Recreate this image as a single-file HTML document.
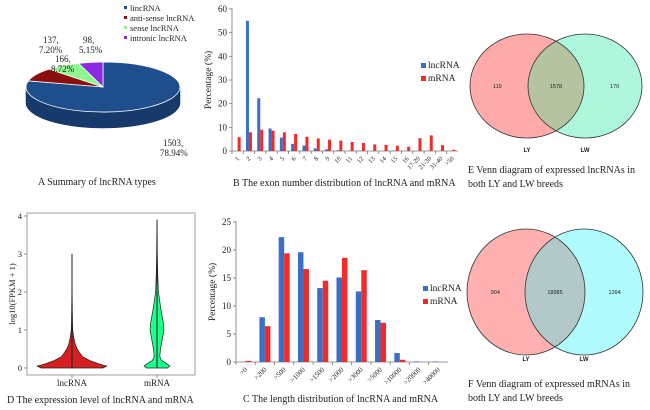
<!DOCTYPE html>
<html><head><meta charset="utf-8"><style>
html,body{margin:0;padding:0;background:#fff}
svg{display:block}
text{font-family:"Liberation Serif",serif;fill:#222}
</style></head><body>
<svg id="s" width="650" height="410" viewBox="0 0 650 410" xmlns="http://www.w3.org/2000/svg">
<g id="pA"></g>
<g id="pB"></g>
<g id="pC"></g>
<g id="pD"></g>
<g id="pE"></g>
<g id="pF"></g>
</svg>
<script>
// ---- Panel A data
const pieLabels=["lincRNA","anti-sense lncRNA","sense lncRNA","intronic lncRNA"];
const pieCounts=[1503,166,137,98];
const piePct=["78.94%","8.72%","7.20%","5.15%"];
// ---- Panel B data
const exonCats=["1","2","3","4","5","6","7","8","9","10","11","12","13","14","15","16","17-20","21-30","31-40",">50"];
const exonLnc=[0,55,22.3,9.5,5.7,3,2.3,1.1,0.7,0.3,0.1,0.1,0,0,0.2,0,0,0,0,0];
const exonMrna=[5.8,7.9,9,8.6,7.9,7.2,6,5.3,4.8,4.4,3.8,3.4,2.8,2.6,2.2,1.8,5.4,6.6,2.5,0.5];
const exonTicks=[0,10,20,30,40,50,60];
// ---- Panel C data
const lenCats=[">0",">200",">500",">1000",">1500",">2000",">3000",">5000",">10000",">20000",">40000"];
const lenLnc=[0,8,22.3,19.6,13.2,15.1,12.6,7.5,1.6,0.1,0.1];
const lenMrna=[0.2,6.4,19.4,16.6,14.5,18.6,16.4,7,0.4,0,0];
const lenTicks=[0,5,10,15,20,25];
// ---- Panel D data
const vioLncY=[0,0.05,0.1,0.2,0.3,0.4,0.5,0.6,0.8,1.0,1.5,2,3];
const vioLncD=[0.88,1.0,0.8,0.5,0.3,0.22,0.15,0.1,0.05,0.02,0.01,0.005,0.002];
const vioMY=[0,0.05,0.1,0.2,0.3,0.5,0.8,1.0,1.2,1.5,2,2.5,3,3.9];
const vioMD=[0.3,0.37,0.3,0.13,0.08,0.1,0.16,0.2,0.18,0.12,0.04,0.02,0.01,0.003];
const vioTicks=[0,1,2,3,4];
// ---- Venn data
const vennE=[119,1578,170];
const vennF=[904,18985,1394];

const NS="http://www.w3.org/2000/svg";
function mk(parent,tag,attrs,txt){const e=document.createElementNS(NS,tag);for(const k in attrs)e.setAttribute(k,attrs[k]);if(txt!==undefined)e.textContent=txt;parent.appendChild(e);return e;}

// ===== Panel A
(function(){
 const g=document.getElementById('pA');
 const cx=103,cy=87,rx=77,ry=25,dep=16;
 const total=pieCounts.reduce((a,b)=>a+b,0);
 const cols=["#1f4e8c","#8b0f0f","#8ff58f","#8a2be2"];
 const side=mk(g,'path',{d:`M${cx-rx},${cy} L${cx-rx},${cy+dep} A${rx},${ry} 0 0 0 ${cx+rx},${cy+dep} L${cx+rx},${cy} Z`,fill:"#163a6b",stroke:"#0f2a50","stroke-width":0.5});
 
 
 const pt=t=>[cx+rx*Math.sin(t),cy-ry*Math.cos(t)];
 let a=0;
 pieCounts.forEach((v,i)=>{
  const s=a, e=a+v/total*2*Math.PI; a=e;
  const p1=pt(s),p2=pt(e),large=(e-s)>Math.PI?1:0;
  const p=mk(g,'path',{d:`M${cx},${cy} L${p1[0]},${p1[1]} A${rx},${ry} 0 ${large} 1 ${p2[0]},${p2[1]} Z`,fill:cols[i],stroke:"#fff","stroke-width":0.8});
  
  
 });
 const lblPos=[[163,146],[55,62],[43,43],[83,43]];
 pieCounts.forEach((v,i)=>{
  const t=mk(g,'text',{x:lblPos[i][0],y:lblPos[i][1],"font-size":9},v+",");
  
  
  const t2=mk(g,'text',{x:lblPos[i][0]-(i==0?3:4),y:lblPos[i][1]+10,"font-size":9},piePct[i]);
  
  
 });
 pieLabels.forEach((l,i)=>{
  const r=mk(g,'rect',{x:124,y:6+i*10,width:3,height:3,fill:cols[i]});
  
  
  const t=mk(g,'text',{x:130,y:11+i*10,"font-size":8.5},l);
  
  
 });
 const c=mk(g,'text',{x:38,y:185,"font-size":10},"A    Summary of lncRNA types");
 
 
})();

// ===== Bar chart helper
function barChart(gid,cats,s1,s2,ticks,x0,x1,y0,yTop,ymax,bw,legX,legY,caption,capX,capY,lblSize){
 const g=document.getElementById(gid);
 const sy=v=>y0-(v/ymax)*(y0-yTop);
 const gw=(x1-x0)/cats.length;
 const ax=mk(g,'path',{d:`M${x0},${yTop-1} L${x0},${y0} L${x1},${y0}`,stroke:"#777",fill:"none","stroke-width":0.8});
 
 
 ticks.forEach(v=>{
  mk(g,'line',{x1:x0-3,x2:x0,y1:sy(v),y2:sy(v),stroke:"#777","stroke-width":0.8});
  const t=mk(g,'text',{x:x0-5,y:sy(v)+3,"font-size":9,"text-anchor":"end"},v);
  
  
 });
 cats.forEach((c,i)=>{
  const gx=x0+i*gw;
  mk(g,'line',{x1:gx,x2:gx,y1:y0,y2:y0+3,stroke:"#777","stroke-width":0.8});
  const cxm=gx+gw/2;
  const b1=mk(g,'rect',{x:cxm-bw,y:sy(s1[i]),width:bw,height:y0-sy(s1[i]),fill:"#3b6fc4"});
  
  
  const b2=mk(g,'rect',{x:cxm,y:sy(s2[i]),width:bw,height:y0-sy(s2[i]),fill:"#f22a2a"});
  
  
  const t=mk(g,'text',{x:cxm+2,y:y0+8,"font-size":lblSize,"text-anchor":"end",transform:`rotate(-45 ${cxm+2} ${y0+8})`},c);
  
  
 });
 const yt=mk(g,'text',{x:0,y:0,"font-size":9.5,"text-anchor":"middle",transform:`translate(${x0-21},${(y0+yTop)/2}) rotate(-90)`},"Percentage (%)");
 
 
 [["lncRNA","#3b6fc4"],["mRNA","#f22a2a"]].forEach((l,i)=>{
  const r=mk(g,'rect',{x:legX,y:legY+i*13-4,width:5,height:5,fill:l[1]});
  
  
  const t=mk(g,'text',{x:legX+7,y:legY+i*13+1,"font-size":9.5},l[0]);
  
  
 });
 const c=mk(g,'text',{x:capX,y:capY,"font-size":10},caption);
 
 
}
barChart('pB',exonCats,exonLnc,exonMrna,exonTicks,232,458,151,9,60,3,421,67,"B    The exon number distribution of lncRNA and mRNA",233,186,6.5);
barChart('pC',lenCats,lenLnc,lenMrna,lenTicks,236,448,362,222,25,5.5,423,290,"C    The length distribution of lncRNA and mRNA",243,402,7);

// ===== Panel D
(function(){
 const g=document.getElementById('pD');
 const bx0=27,bx1=195,by0=213,by1=375;
 const sy=v=>368-v*38;
 const box=mk(g,'rect',{x:bx0,y:by0,width:bx1-bx0,height:by1-by0,fill:"#fff",stroke:"#888","stroke-width":0.8});
 
 
 vioTicks.forEach(v=>{
  mk(g,'line',{x1:bx0-3,x2:bx0,y1:sy(v),y2:sy(v),stroke:"#777","stroke-width":0.8});
  const t=mk(g,'text',{x:bx0-5,y:sy(v)+3,"font-size":8.5,"text-anchor":"end"},v);
  
  
 });
 function violin(cx,ys,ds,fill,name){
  const sc=35;
  let d=`M${cx},${sy(ys[0])}`;
  ys.forEach((y,i)=>{d+=` L${cx+ds[i]*sc},${sy(y)}`;});
  d+=` L${cx},${sy(ys[ys.length-1])}`;
  for(let i=ys.length-1;i>=0;i--)d+=` L${cx-ds[i]*sc},${sy(ys[i])}`;
  d+=" Z";
  const p=mk(g,'path',{d:d,fill:fill,stroke:"#222","stroke-width":0.7,"stroke-linejoin":"round"});
  
  
  mk(g,'line',{x1:cx,x2:cx,y1:sy(ys[0]),y2:sy(ys[ys.length-1]),stroke:"#222","stroke-width":1});
  mk(g,'line',{x1:cx,x2:cx,y1:by1,y2:by1+3,stroke:"#777","stroke-width":0.8});
  const t=mk(g,'text',{x:cx,y:386,"font-size":9,"text-anchor":"middle"},name);
  
  
 }
 violin(72,vioLncY,vioLncD,"#d42020","lncRNA");
 violin(157,vioMY,vioMD,"#1aff88","mRNA");
 const yt=mk(g,'text',{x:0,y:0,"font-size":8.5,"text-anchor":"middle",transform:`translate(15,${(by0+by1)/2}) rotate(-90)`},"log10(FPKM + 1)");
 
 
 const c=mk(g,'text',{x:7,y:403,"font-size":10},"D    The expression level of lncRNA and mRNA");
 
 
})();

// ===== Venns
function venn(gid,vals,lx,rx,cy,rrx,rry,cl,cr,co,labY,cap1,cap2,capY){
 const g=document.getElementById(gid);
 const id=gid+'clip';
 const defs=mk(g,'defs',{});
 const cp=mk(defs,'clipPath',{id:id});
 mk(cp,'ellipse',{cx:lx,cy:cy,rx:rrx,ry:rry});
 const a=mk(g,'ellipse',{cx:lx,cy:cy,rx:rrx,ry:rry,fill:cl});
 
 
 const b=mk(g,'ellipse',{cx:rx,cy:cy,rx:rrx,ry:rry,fill:cr});
 
 
 const o=mk(g,'ellipse',{cx:rx,cy:cy,rx:rrx,ry:rry,fill:co,"clip-path":`url(#${id})`});
 
 
 mk(g,'ellipse',{cx:lx,cy:cy,rx:rrx,ry:rry,fill:"none",stroke:"#333","stroke-width":0.8});
 mk(g,'ellipse',{cx:rx,cy:cy,rx:rrx,ry:rry,fill:"none",stroke:"#333","stroke-width":0.8});
 const xs=[lx-(rrx*0.52),(lx+rx)/2,rx+(rrx*0.52)];
 vals.forEach((v,i)=>{
  const t=mk(g,'text',{x:xs[i],y:cy+2,"font-size":5.5,"text-anchor":"middle",style:"font-family:'Liberation Sans',sans-serif"},v);
  
  
 });
 [["LY",lx],["LW",rx]].forEach(l=>{
  const t=mk(g,'text',{x:l[1],y:labY,"font-size":6,"font-weight":"bold","text-anchor":"middle",style:"font-family:'Liberation Sans',sans-serif"},l[0]);
  
  
 });
 const c1=mk(g,'text',{x:468,y:capY,"font-size":10},cap1);
 
 
 const c2=mk(g,'text',{x:468,y:capY+14,"font-size":10},cap2);
 
 
}
venn('pE',vennE,527,585,86,57,52,"#ffaaaa","#aef7dc","#b5c3a0",152,"E    Venn diagram of expressed lncRNAs in","both LY and LW breeds",173);
venn('pF',vennF,526,584,292,59,63,"#ffb0b0","#b0fcfc","#b3c8c8",361,"F    Venn diagram of expressed mRNAs in","both LY and LW breeds",387);
</script>
</body></html>
